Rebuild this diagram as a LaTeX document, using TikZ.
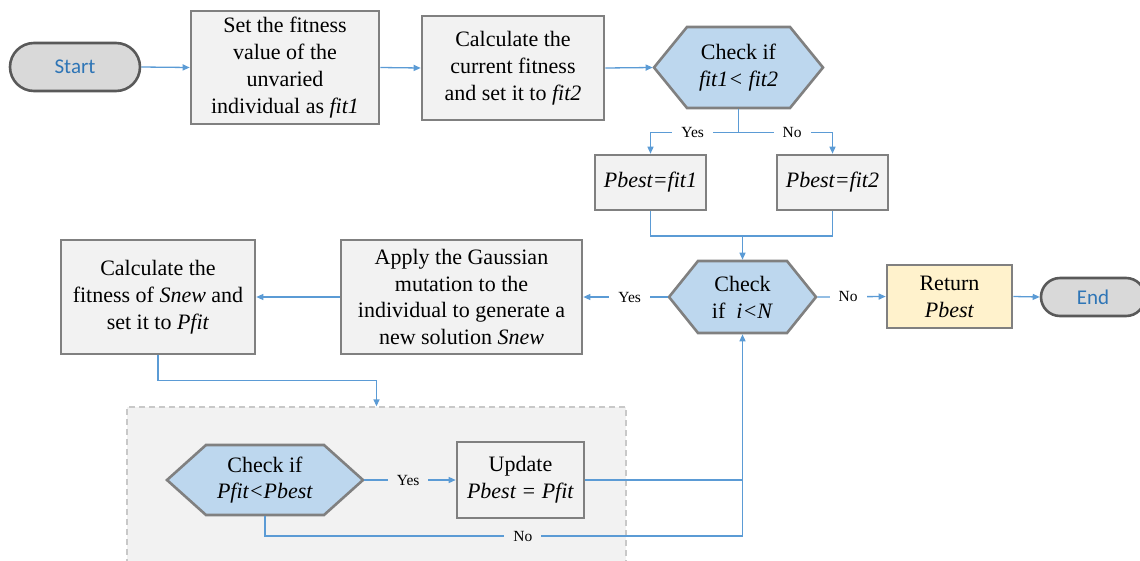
\documentclass[tikz,border=0pt]{standalone}
\usepackage{fontspec}
\setmainfont{Liberation Serif}
\newfontfamily\termfont{Carlito}
\usetikzlibrary{arrows.meta}

\definecolor{connblue}{HTML}{5B9BD5}
\definecolor{boxfill}{HTML}{F2F2F2}
\definecolor{boxline}{HTML}{808080}
\definecolor{hexfill}{HTML}{BDD7EE}
\definecolor{termfill}{HTML}{D9D9D9}
\definecolor{termline}{HTML}{595959}
\definecolor{termtext}{HTML}{2E75B6}
\definecolor{retfill}{HTML}{FFF2CC}
\definecolor{grpline}{HTML}{C8C8C8}

% hexagonal decision: name, cx, cy, width, height, cut, text
\newcommand{\decision}[7]{%
  \path[hexshape] ({#2-#4/2},#3) -- ({#2-#4/2+#6},{#3-#5/2}) -- ({#2+#4/2-#6},{#3-#5/2})
    -- ({#2+#4/2},#3) -- ({#2+#4/2-#6},{#3+#5/2}) -- ({#2-#4/2+#6},{#3+#5/2}) -- cycle;
  \node[hextext, minimum width=#4, minimum height=#5] (#1) at (#2,#3) {#7};}

\begin{document}
\begin{tikzpicture}[x=1pt, y=-1pt,
  txt/.style={font=\fontsize{22}{26.8}\selectfont, align=center, text=black},
  box/.style={txt, draw=boxline, line width=2.6pt, fill=boxfill, inner sep=0pt},
  term/.style={draw=termline, line width=2.6pt, fill=termfill, text=termtext,
    font=\termfont\fontsize{21}{24}\selectfont, inner sep=0pt},
  hexshape/.style={draw=boxline, line width=2.6pt, fill=hexfill, line join=miter},
  hextext/.style={txt, inner sep=0pt, outer sep=1.3pt},
  grp/.style={draw=grpline, dashed, dash pattern=on 6pt off 4pt, line width=1.3pt, fill=boxfill},
  link/.style={draw=connblue, line width=1.3pt},
  flow/.style={link, -{Triangle[length=7pt,width=6pt]}},
  lbl/.style={font=\fontsize{15.5}{18}\selectfont, fill=white, inner xsep=9pt, inner ysep=2pt},
  lblg/.style={lbl, fill=boxfill}]

\useasboundingbox (0,0) rectangle (1140,560);

% inner loop group
\node[grp, minimum width=499, minimum height=200] (group) at (376.5,507) {};

% terminals
\node[term, minimum width=130, minimum height=48, rounded corners=24pt] (start) at (75,67) {Start};
\node[term, minimum width=104, minimum height=38, rounded corners=19pt] (finish) at (1093,297) {End};

% process boxes
\node[box, minimum width=188, minimum height=113] (setfit) at (285,67.5)
  {Set the fitness\\value of the\\unvaried\\individual as \textit{fit1}};
\node[box, minimum width=182, minimum height=104] (curfit) at (513,68)
  {Calculate the\\current fitness\\and set it to \textit{fit2}};
\node[box, minimum width=111, minimum height=55] (pone) at (650.5,182.5) {\textit{Pbest=fit1}};
\node[box, minimum width=111, minimum height=55] (ptwo) at (832.5,182.5) {\textit{Pbest=fit2}};
\node[box, minimum width=241, minimum height=114] (mutate) at (461.5,297)
  {Apply the Gaussian\\mutation to the\\individual to generate a\\new solution \textit{Snew}};
\node[box, minimum width=194, minimum height=114] (pfit) at (158,297)
  {Calculate the\\fitness of \textit{Snew} and\\set it to \textit{Pfit}};
\node[box, minimum width=127, minimum height=76] (update) at (520.5,480)
  {Update\\\textit{Pbest = Pfit}};
\node[box, fill=retfill, minimum width=125, minimum height=63] (ret) at (949.5,296.5)
  {Return\\\textit{Pbest}};

% decisions
\decision{cmpfit}{738.5}{67.5}{169}{81}{33}{Check if\\\textit{fit1< fit2}}
\decision{loop}{742.5}{297}{147}{72}{29}{Check\\if\ \ \textit{i<N}}
\decision{better}{265}{480}{196}{70}{39}{Check if\\\textit{Pfit<Pbest}}

% connectors
\draw[flow] (start.east) -- (setfit.west);
\draw[flow] (setfit.east) -- (curfit.west);
\draw[flow] (curfit.east) -- (cmpfit.west);

\draw[link] (cmpfit.south) -- ++(0,23) coordinate (fork);
\draw[flow] (fork) -| node[lbl, pos=0.26] {Yes} (pone.north);
\draw[flow] (fork) -| node[lbl, pos=0.285] {No} (ptwo.north);

\coordinate (merge) at (742.5,236);
\draw[link] (pone.south) |- (merge) -| (ptwo.south);
\draw[flow] (merge) -- (loop.north);

\draw[flow] (loop.west) -- node[lbl, pos=0.45] {Yes} (mutate.east);
\draw[flow] (loop.east) -- node[lbl, pos=0.45] {No} (ret.west);
\draw[flow] (ret.east) -- (finish.west);
\draw[flow] (mutate.west) -- (pfit.east);
\draw[flow] (pfit.south) -- ++(0,25) -| (group.north);

\draw[flow] (better.east) -- node[lblg, pos=0.48] {Yes} (update.west);
\draw[flow] (update.east) -| (loop.south);
\coordinate (nojoin) at (742.5,536);
\draw[link] (better.south) |- node[lblg, pos=0.77] {No} (nojoin) -- (nojoin |- update.east);
\end{tikzpicture}
\end{document}
